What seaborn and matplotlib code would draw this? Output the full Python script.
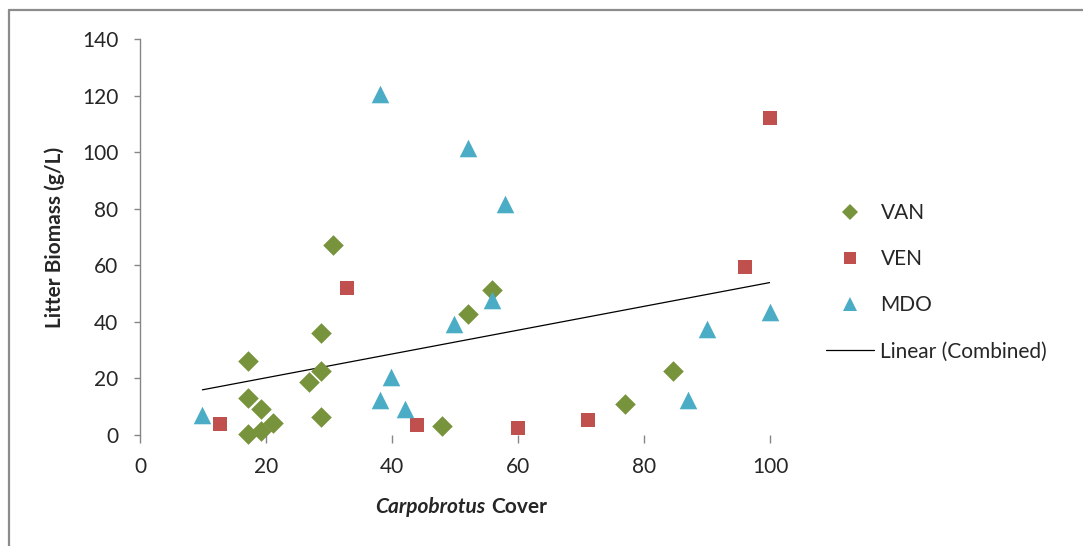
import numpy as np
import pandas as pd
import matplotlib
matplotlib.use('Agg')
import matplotlib.pyplot as plt
from matplotlib.lines import Line2D
import seaborn as sns

sns.set_style('white')
plt.rcParams['font.family'] = ['Lato', 'DejaVu Sans']

# data
van_x = [17.2, 17.2, 17.2, 19.2, 19.2, 21.1, 26.8, 28.8, 28.8, 28.8, 30.7, 48, 52.1, 55.8, 77, 84.6]
van_y = [26.2, 13.1, 0.5, 9.1, 1.5, 4.4, 18.8, 35.9, 22.7, 6.2, 67.2, 3.1, 42.7, 51.2, 10.8, 22.7]
ven_x = [12.7, 32.9, 44, 60, 71.1, 96, 100]
ven_y = [3.8, 52.1, 3.5, 2.6, 5.2, 59.3, 112]
mdo_x = [9.9, 38.1, 38.1, 39.9, 42, 49.8, 52.1, 55.9, 57.9, 87, 90, 100]
mdo_y = [7.2, 120.6, 12.3, 20.6, 9.1, 39.1, 101.6, 47.7, 81.7, 12.3, 37.3, 43.6]

groups = ['VAN', 'VEN', 'MDO']
colors = {'VAN': '#77933C', 'VEN': '#C0504D', 'MDO': '#4BACC6'}
markers = {'VAN': 'D', 'VEN': 's', 'MDO': '^'}
sizes = {'VAN': 110, 'VEN': 105, 'MDO': 160}

df = pd.concat([
    pd.DataFrame({'cover': van_x, 'biomass': van_y, 'site': 'VAN'}),
    pd.DataFrame({'cover': ven_x, 'biomass': ven_y, 'site': 'VEN'}),
    pd.DataFrame({'cover': mdo_x, 'biomass': mdo_y, 'site': 'MDO'}),
], ignore_index=True)

fig = plt.figure(figsize=(10.83, 5.46), dpi=100)
ax = fig.add_axes([140/1083, 1-435/546, 630/1083, 396/546])

for g in groups:
    d = df[df.site == g]
    sns.scatterplot(data=d, x='cover', y='biomass', marker=markers[g], color=colors[g],
                    s=sizes[g], linewidth=0, ax=ax, clip_on=False, zorder=3)

# linear trend for all points together
sns.regplot(data=df, x='cover', y='biomass', scatter=False, ci=None, truncate=True,
            line_kws={'color': 'black', 'lw': 0.9}, ax=ax)

ax.set_xlim(0, 100)
ax.set_ylim(0, 140)
ax.set_xticks(range(0, 101, 20))
ax.set_yticks(range(0, 141, 20))
for s in ['top', 'right', 'bottom']:
    ax.spines[s].set_visible(False)
ax.spines['left'].set_color('#868686')
ax.spines['left'].set_linewidth(1)
ax.tick_params(axis='y', left=True, length=4.5, width=1, color='#868686', pad=11, labelsize=15)
ax.tick_params(axis='x', bottom=True, length=6, width=1, color='#868686', pad=10, labelsize=15)

ax.set_xlabel('')
ax.set_ylabel('Litter Biomass (g/L)', fontsize=15, fontweight='bold', labelpad=12)
fig.text(485/1083, 1-507/546, 'Carpobrotus', ha='right', va='center',
         fontsize=15, fontweight='bold', fontstyle='italic')
fig.text(491/1083, 1-507/546, 'Cover', ha='left', va='center',
         fontsize=15, fontweight='bold')

handles = [Line2D([], [], marker=markers[g], color=colors[g], linestyle='none',
                  markersize=np.sqrt(sizes[g]) * 0.8, markeredgewidth=0) for g in groups]
handles.append(Line2D([], [], color='black', lw=0.9))
labels = groups + ['Linear (Combined)']
fig.legend(handles, labels, loc='upper left', bbox_to_anchor=(818/1083, 1-195/546),
           frameon=False, fontsize=15, handlelength=2.3, handletextpad=0.3, labelspacing=1.25,
           borderaxespad=0)

# outer frame
fig.add_artist(Line2D([9/1083, 1], [1-10/546, 1-10/546], color='#8c8c8c', lw=1.6))
fig.add_artist(Line2D([9/1083, 9/1083], [0, 1-10/546], color='#8c8c8c', lw=1.6))

plt.savefig('out.png', dpi=100)
